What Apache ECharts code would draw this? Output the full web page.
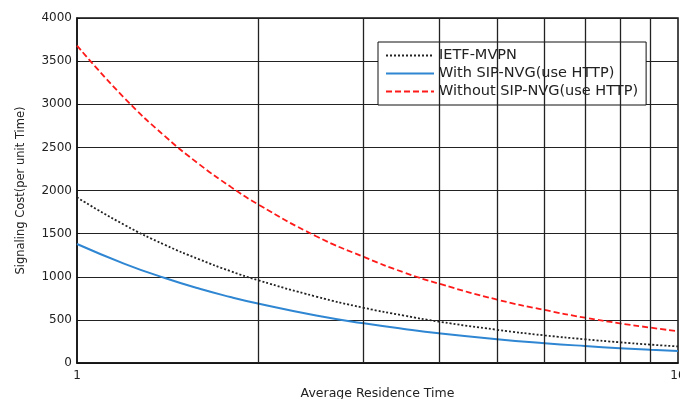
<!DOCTYPE html>
<html>
<head>
<meta charset="utf-8">
<script src="https://cdn.jsdelivr.net/npm/echarts@6/dist/echarts.min.js"></script>
<style>html,body{margin:0;padding:0;background:#fff;}#c{width:680px;height:399px;}</style>
</head>
<body>
<div id="c"></div>
<script>
var xValues = [1, 1.2, 1.4, 1.6, 1.8, 2, 2.5, 3, 3.5, 4, 5, 6, 7, 8, 9, 10];
var ietfMvpn = [1920, 1600, 1370, 1200, 1065, 960, 770, 640, 550, 480, 385, 320, 275, 240, 213, 192];
var withSipNvg = [1380, 1150, 985, 860, 765, 690, 550, 460, 395, 345, 276, 230, 197, 172, 153, 138];
var withoutSipNvg = [3680, 3070, 2630, 2300, 2045, 1840, 1470, 1230, 1050, 920, 735, 615, 525, 460, 410, 368];
var minorGrid = [2, 3, 4, 5, 6, 7, 8, 9];
var seriesNames = ['IETF-MVPN', 'With SIP-NVG(use HTTP)', 'Without SIP-NVG(use HTTP)'];

function pairs(vals) { return xValues.map(function (x, i) { return [x, vals[i]]; }); }

var FONT = 'DejaVu Sans, Liberation Sans, Arial, sans-serif';
var chart = echarts.init(document.getElementById('c'));
chart.setOption({
  animation: false,
  backgroundColor: '#fff',
  textStyle: { fontFamily: FONT },
  grid: { left: 77, top: 18, right: 2, bottom: 36, outerBoundsMode: 'none', containLabel: false,
          show: true, borderColor: '#111', borderWidth: 1.5, backgroundColor: '#fff' },
  legend: {
    orient: 'vertical', left: 378, top: 42,
    data: seriesNames,
    backgroundColor: '#fff', borderColor: '#111', borderWidth: 1,
    padding: [6, 8, 6, 7], itemGap: 3, itemWidth: 48, itemHeight: 10,
    itemStyle: { opacity: 0 },
    textStyle: { fontSize: 14.5, color: '#222', fontFamily: FONT }
  },
  xAxis: {
    type: 'log', logBase: 10, min: 1, max: 10,
    name: 'Average Residence Time', nameLocation: 'middle', nameGap: 20,
    nameTextStyle: { fontSize: 12.5, color: '#222', fontFamily: FONT },
    axisLine: { lineStyle: { color: '#111', width: 1.5 } },
    axisTick: { show: false },
    axisLabel: { fontSize: 12, color: '#222', margin: 7, showMaxLabel: true, fontFamily: FONT },
    splitLine: { show: false }
  },
  yAxis: {
    type: 'value', min: 0, max: 4000, interval: 500,
    name: 'Signaling Cost(per unit Time)', nameLocation: 'middle', nameGap: 50, nameRotate: 90,
    nameTextStyle: { fontSize: 11.5, color: '#222', fontFamily: FONT },
    axisLine: { show: true, lineStyle: { color: '#111', width: 1.5 } },
    axisTick: { show: true, inside: true, length: 3, lineStyle: { color: '#111' } },
    axisLabel: { fontSize: 12, color: '#222', margin: 5, fontFamily: FONT,
                 formatter: function (v) { return String(v); } },
    splitLine: { show: true, lineStyle: { color: '#222', width: 1.2 } }
  },
  series: [
    {
      name: seriesNames[0], type: 'line', data: pairs(ietfMvpn), smooth: true,
      showSymbol: false, symbol: 'none', z: 3,
      lineStyle: { color: '#222', width: 1.8, type: [2, 2] }, itemStyle: { color: '#222' },
      markLine: {
        silent: true, symbol: 'none', label: { show: false }, animation: false,
        lineStyle: { color: '#222', width: 1.3, type: 'solid' },
        data: minorGrid.map(function (v) { return { xAxis: v }; })
      }
    },
    {
      name: seriesNames[1], type: 'line', data: pairs(withSipNvg), smooth: true,
      showSymbol: false, symbol: 'none', z: 3,
      lineStyle: { color: '#2f86d2', width: 2, type: 'solid' }, itemStyle: { color: '#2f86d2' }
    },
    {
      name: seriesNames[2], type: 'line', data: pairs(withoutSipNvg), smooth: true,
      showSymbol: false, symbol: 'none', z: 3,
      lineStyle: { color: '#ff1a1a', width: 1.8, type: [6, 3] }, itemStyle: { color: '#ff1a1a' }
    }
  ]
});
</script>
</body>
</html>
